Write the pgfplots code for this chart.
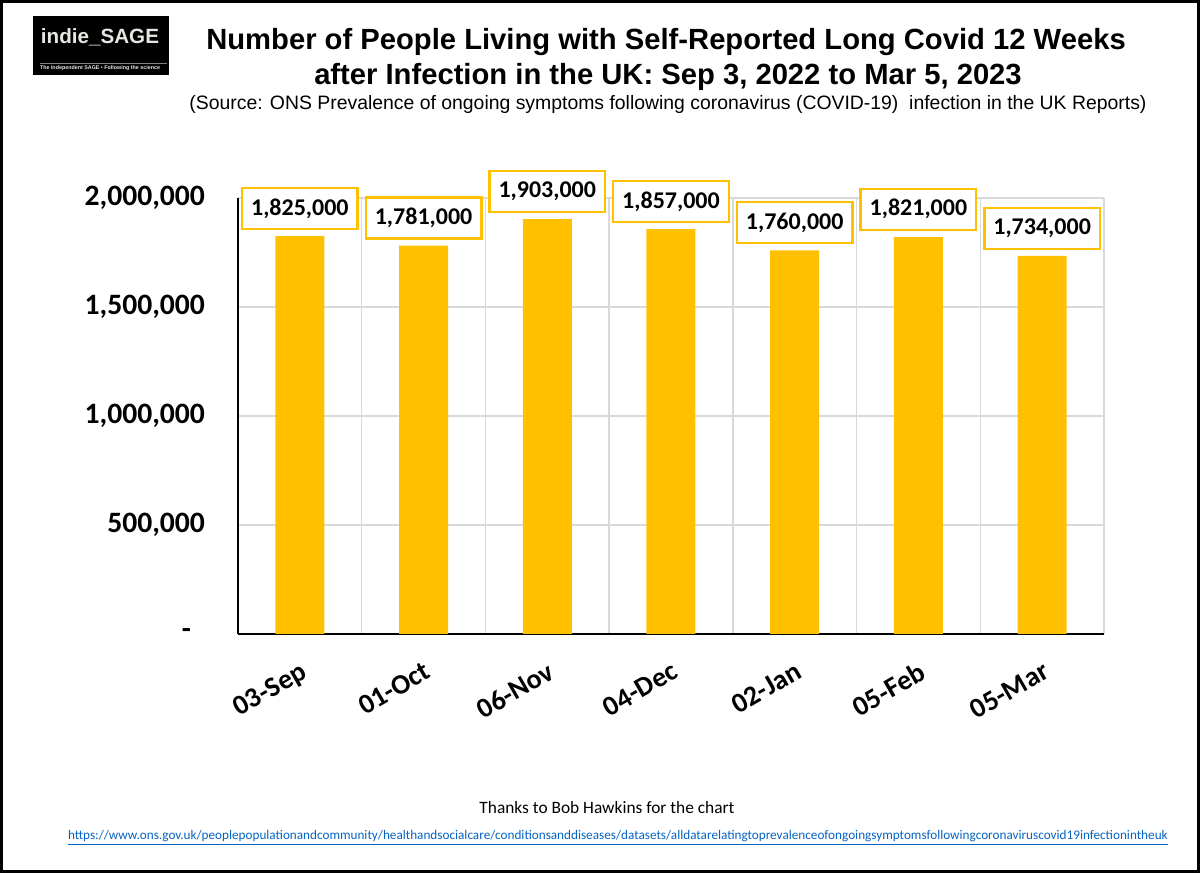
\documentclass[border=0pt]{standalone}
\usepackage{fontspec}
\setmainfont{Carlito}
\newfontfamily\arial{Liberation Sans}
\usepackage{pgfplots}
\pgfplotsset{compat=1.18}

\definecolor{gold}{HTML}{FFC000}
\definecolor{gridgray}{HTML}{D9D9D9}
\definecolor{linkblue}{HTML}{0563C1}
\definecolor{logogray}{HTML}{E8E6E0}

\begin{document}
\begin{tikzpicture}[x=1pt,y=1pt]
% page = 1200x873 px at 0.5pt per px
\path[use as bounding box] (0,0) rectangle (600,436.5);
\draw[line width=1.5pt] (0.75,0.75) rectangle (599.25,435.75);

% logo
\fill[black] (16.5,399) rectangle (84.5,428.5);
\node[anchor=base, text=logogray, inner sep=0pt] at (50,414.5)
  {\resizebox{59pt}{!}{\arial\bfseries\fontsize{11}{11}\selectfont indie\_SAGE}};
\draw[gray, line width=0.4pt] (20,405) -- (83.5,405);
\node[anchor=base, text=logogray, inner sep=0pt] at (50,401.5)
  {\resizebox{60pt}{!}{\arial\bfseries\fontsize{4}{4}\selectfont The Independent SAGE \textbullet\ Following the science}};

% titles
\node[anchor=base, inner sep=0pt, font=\arial\bfseries\fontsize{14.6}{18}\selectfont]
  at (333,411.5) {Number of People Living with Self-Reported Long Covid 12 Weeks};
\node[anchor=base, inner sep=0pt, font=\arial\bfseries\fontsize{14.6}{18}\selectfont]
  at (334,394) {after Infection in the UK: Sep 3, 2022 to Mar 5, 2023};
\node[anchor=base, inner sep=0pt, font=\arial\fontsize{9.7}{11}\selectfont]
  at (334,381.5) {(Source: ONS Prevalence of ongoing symptoms following coronavirus (COVID-19)\ \ infection in the UK Reports)};

\begin{axis}[
  at={(119pt,119.5pt)}, anchor=south west,
  scale only axis, width=433pt, height=218pt,
  ymin=0, ymax=2000000, xmin=-0.5, xmax=6.5,
  ybar, bar width=24.5pt,
  axis x line=bottom, axis y line=left,
  axis line style={-, line width=1.2pt, black},
  clip=false,
  xtick={0,...,6},
  xticklabels={03-Sep,01-Oct,06-Nov,04-Dec,02-Jan,05-Feb,05-Mar},
  minor xtick={0.5,1.5,...,6.5},
  ytick={0,500000,1000000,1500000,2000000},
  yticklabels={{-\hspace*{7pt}},{500,000},{1,000,000},{1,500,000},{2,000,000}},
  scaled y ticks=false,
  major tick length=0pt, minor tick length=0pt,
  ymajorgrids, xminorgrids,
  major grid style={gridgray, line width=0.7pt},
  minor grid style={gridgray, line width=0.7pt},
  yticklabel style={font=\bfseries\fontsize{14.8}{15}\selectfont, xshift=-13pt},
  xticklabel style={font=\bfseries\fontsize{14}{14}\selectfont, rotate=30,
                    anchor=north east, xshift=-3.5pt, yshift=-8pt},
  /pgf/number format/fixed, /pgf/number format/precision=0,
  /pgf/number format/1000 sep={,},
  /pgf/number format/assume math mode=true,
  nodes near coords,
  every node near coord/.append style={font=\bfseries\fontsize{12}{12}\selectfont,
     text=black, draw=gold, line width=1.2pt, fill=white,
     inner xsep=4.5pt, minimum height=20.5pt, anchor=south, yshift=3pt},
]
\addplot[fill=gold, draw=none] coordinates {
  (0,1825000) (1,1781000) (2,1903000) (3,1857000)
  (4,1760000) (5,1821000) (6,1734000)
};
\end{axis}

% credits
\node[inner sep=0pt] at (303.5,32.5)
  {\resizebox{127.5pt}{!}{\fontsize{9}{10}\selectfont Thanks to Bob Hawkins for the chart}};
\node[inner sep=0pt, text=linkblue] at (309,17.5)
  {\underline{\resizebox{550pt}{!}{\fontsize{7.5}{8}\selectfont https://www.ons.gov.uk/peoplepopulationandcommunity/healthandsocialcare/conditionsanddiseases/datasets/alldatarelatingtoprevalenceofongoingsymptomsfollowingcoronaviruscovid19infectionintheuk}}};
\end{tikzpicture}
\end{document}
